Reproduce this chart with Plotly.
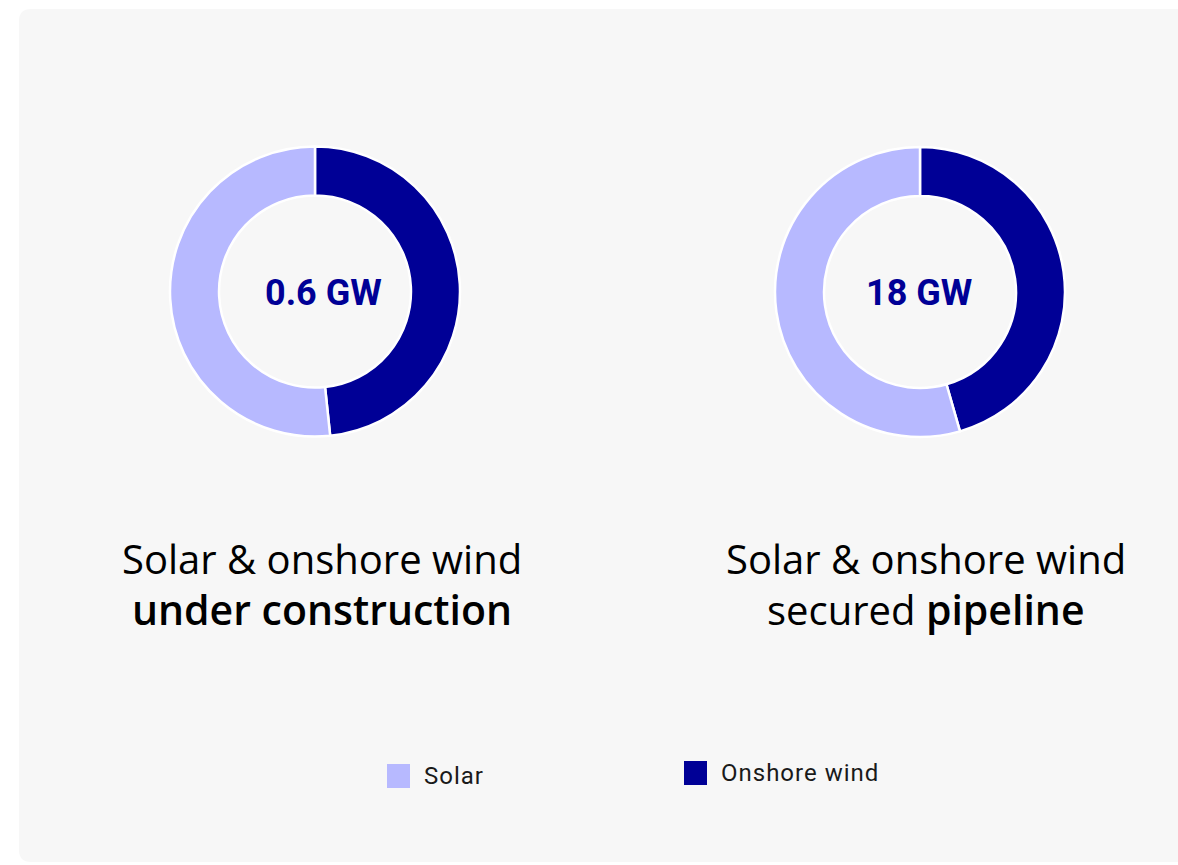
import plotly.graph_objects as go

# Capacity split per technology (GW)
technologies = ["Onshore wind", "Solar"]
colors = ["#000096", "#b7b9ff"]
under_construction = [0.29, 0.31]
secured_pipeline = [8.2, 9.8]
center_labels = ["0.6 GW", "18 GW"]
title_line1 = ["Solar & onshore wind", "Solar & onshore wind"]
title_line2 = [
    '<span style="font-weight:600;font-size:41px">under construction</span>',
    'secured <span style="font-weight:600;font-size:41px">pipeline</span>',
]
legend_order = ["Solar", "Onshore wind"]

W, H = 1178, 865


def px_x(x):
    return x / W


def px_y(y):
    return 1 - y / H


def donut_domain(cx, cy, r):
    return dict(x=[px_x(cx - r), px_x(cx + r)], y=[px_y(cy + r), px_y(cy - r)])


fig = go.Figure()

donuts = [
    (under_construction, 315, 291.5),
    (secured_pipeline, 920, 292),
]
R = 145
for values, cx, cy in donuts:
    fig.add_trace(go.Pie(
        labels=technologies,
        values=values,
        hole=0.662,
        sort=False,
        direction="clockwise",
        rotation=0,
        textinfo="none",
        hoverinfo="label+value",
        marker=dict(colors=colors, line=dict(color="white", width=2.5)),
        domain=donut_domain(cx, cy, R),
        showlegend=False,
    ))

annotations = []
# Centre totals
for label, (x, y) in zip(center_labels, [(323, 293), (918.5, 293)]):
    annotations.append(dict(
        x=px_x(x), y=px_y(y), xref="paper", yref="paper",
        text=f"<b>{label}</b>", showarrow=False, xanchor="center", yanchor="middle",
        font=dict(family="Roboto", size=36, color="#000096"),
    ))

# Titles below each donut
for l1, l2, x in zip(title_line1, title_line2, [322, 926]):
    annotations.append(dict(
        x=px_x(x), y=px_y(558), xref="paper", yref="paper", text=l1,
        showarrow=False, xanchor="center", yanchor="middle",
        font=dict(family="Open Sans", size=40, color="#000000"),
    ))
    annotations.append(dict(
        x=px_x(x), y=px_y(609), xref="paper", yref="paper", text=l2,
        showarrow=False, xanchor="center", yanchor="middle",
        font=dict(family="Open Sans", size=40, color="#000000"),
    ))

shapes = []
# Card background with rounded corners
x0, x1, y0, y1, rr = px_x(19), px_x(1200), px_y(9), px_y(862), 12
ry, rx = rr / H, rr / W
card_path = (
    f"M {x0 + rx},{y0} L {x1 - rx},{y0} Q {x1},{y0} {x1},{y0 - ry} "
    f"L {x1},{y1 + ry} Q {x1},{y1} {x1 - rx},{y1} "
    f"L {x0 + rx},{y1} Q {x0},{y1} {x0},{y1 + ry} "
    f"L {x0},{y0 - ry} Q {x0},{y0} {x0 + rx},{y0} Z"
)
shapes.append(dict(type="path", path=card_path, xref="paper", yref="paper",
                   fillcolor="#f7f7f7", line=dict(width=0), layer="below"))

# Legend: colored squares plus labels
color_of = dict(zip(technologies, colors))
legend_pos = {"Solar": (387, 776), "Onshore wind": (684, 773)}
for name in legend_order:
    lx, ly = legend_pos[name]
    shapes.append(dict(type="rect", xref="paper", yref="paper",
                       x0=px_x(lx), x1=px_x(lx + 23), y0=px_y(ly + 12), y1=px_y(ly - 12),
                       fillcolor=color_of[name], line=dict(width=0)))
    annotations.append(dict(
        x=px_x(lx + 35), y=px_y(ly), xref="paper", yref="paper",
        text=f'<span style="letter-spacing:1px">{name}</span>',
        showarrow=False, xanchor="left", yanchor="middle",
        font=dict(family="Roboto", size=24, color="#1a1a1a"),
    ))

fig.update_layout(
    width=W, height=H,
    margin=dict(l=0, r=0, t=0, b=0),
    paper_bgcolor="white",
    plot_bgcolor="white",
    shapes=shapes,
    annotations=annotations,
)

fig.write_html("out.html")
